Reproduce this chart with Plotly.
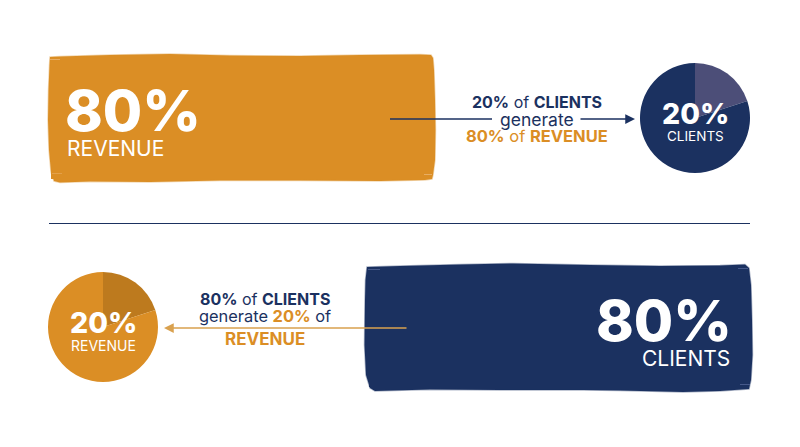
import plotly.graph_objects as go

NAVY = "#1b3160"
NAVY_LIGHT = "#4c4e78"
ORANGE = "#db8e25"
ORANGE_DARK = "#bd7a1e"

bar_values = [80]
pie_labels = ["share", "rest"]
pie_values = [20, 80]

W = 800
H = 447

# ragged brush outline behind each bar, page pixels
orange_brush = [(50, 57), (60, 56.5), (110, 55), (170, 54), (230, 55.5), (300, 56), (360, 55), (420, 54.5), (431, 55),
                (433, 58), (434, 70), (435, 100), (435.5, 130), (435, 160), (433, 175), (432, 179), (425, 180),
                (380, 181), (300, 180.5), (220, 180.5), (150, 182), (90, 181.5), (60, 182.5), (54, 181), (51, 172),
                (49, 150), (48, 120), (48.5, 90), (49.5, 65)]
navy_brush = [(367, 267), (400, 266), (460, 264.5), (513, 263.5), (590, 265), (660, 266), (720, 265.5), (745, 264.5),
              (749, 268), (751, 285), (752, 320), (752.5, 355), (751, 380), (749, 389), (720, 391), (683, 392),
              (620, 390.5), (583, 390), (500, 390), (430, 389.5), (375, 391), (370, 388), (366, 375), (364.5, 345),
              (365, 300), (365.5, 280)]


def px_x(x):
    return x / W


def px_y(y):
    return 1 - y / H


def label(fig, x, y, text, size, color="white", anchor="center", weight=None):
    fig.add_annotation(x=px_x(x), y=px_y(y), xref="paper", yref="paper", text=text, showarrow=False,
                       xanchor=anchor, yanchor="middle", align="center", borderpad=0,
                       font=dict(family="Inter", size=size, color=color, weight=weight))


def brush(fig, points, color, edge):
    path = "M " + " L ".join(f"{px_x(x)},{px_y(y)}" for x, y in points) + " Z"
    fig.add_shape(type="path", xref="paper", yref="paper", path=path, fillcolor=color, layer="below",
                  line=dict(color=edge, width=1.5))


def streak(fig, x0, x1, y, color):
    fig.add_shape(type="line", xref="paper", yref="paper", x0=px_x(x0), x1=px_x(x1), y0=px_y(y), y1=px_y(y),
                  line=dict(color=color, width=1))


fig = go.Figure()

# big bars, 80 of 100
fig.add_trace(go.Bar(x=bar_values, y=["a"], orientation="h", width=1, marker=dict(color=ORANGE, line_width=0),
                     xaxis="x", yaxis="y", hoverinfo="skip"))
fig.add_trace(go.Bar(x=bar_values, y=["a"], orientation="h", width=1, marker=dict(color=NAVY, line_width=0),
                     xaxis="x2", yaxis="y2", hoverinfo="skip"))

# small pies, 20 of 100
fig.add_trace(go.Pie(labels=pie_labels, values=pie_values, sort=False, direction="clockwise", rotation=0,
                     textinfo="none", hoverinfo="skip", marker=dict(colors=[NAVY_LIGHT, NAVY], line_width=0),
                     domain=dict(x=[px_x(640), px_x(750)], y=[px_y(173), px_y(63)])))
fig.add_trace(go.Pie(labels=pie_labels, values=pie_values, sort=False, direction="clockwise", rotation=0,
                     textinfo="none", hoverinfo="skip", marker=dict(colors=[ORANGE_DARK, ORANGE], line_width=0),
                     domain=dict(x=[px_x(48), px_x(158)], y=[px_y(382), px_y(272)])))

axis_off = dict(visible=False, fixedrange=True)
fig.update_layout(
    width=W, height=H, margin=dict(l=0, r=0, t=0, b=0), showlegend=False,
    paper_bgcolor="white", plot_bgcolor="rgba(0,0,0,0)", barmode="overlay",
    xaxis=dict(domain=[px_x(51), px_x(432)], range=[0, 80], **axis_off),
    yaxis=dict(domain=[px_y(179), px_y(58)], **axis_off),
    xaxis2=dict(domain=[px_x(369), px_x(748)], range=[80, 0], anchor="y2", **axis_off),
    yaxis2=dict(domain=[px_y(387), px_y(268)], anchor="x2", **axis_off),
)

brush(fig, orange_brush, ORANGE, "rgba(219,142,37,0.35)")
brush(fig, navy_brush, NAVY, "rgba(27,49,96,0.35)")

# lighter dry-brush marks in the corners
streak(fig, 50, 60, 59.5, "#e8ad62")
streak(fig, 424, 432, 174.5, "#e8ad62")
streak(fig, 52, 62, 173.5, "#e3a04a")
streak(fig, 368, 380, 269.5, "#46598a")
streak(fig, 738, 748, 268.5, "#46598a")
streak(fig, 740, 750, 384.5, "#46598a")

# divider
fig.add_shape(type="line", xref="paper", yref="paper", x0=px_x(49), x1=px_x(750), y0=px_y(223.5), y1=px_y(223.5),
              line=dict(color=NAVY, width=1))

# top arrow, broken around "generate"
fig.add_shape(type="line", xref="paper", yref="paper", x0=px_x(390), x1=px_x(492), y0=px_y(119), y1=px_y(119),
              line=dict(color=NAVY, width=1.5))
fig.add_annotation(x=px_x(635), y=px_y(119), ax=-56, ay=0, xref="paper", yref="paper", text="", showarrow=True,
                   arrowhead=2, arrowsize=1.3, arrowwidth=1.5, arrowcolor=NAVY)

# bottom arrow
fig.add_annotation(x=px_x(164), y=px_y(328), ax=244, ay=0, xref="paper", yref="paper", text="", showarrow=True,
                   arrowhead=2, arrowsize=1.3, arrowwidth=1.5, arrowcolor="#d9a14f")

label(fig, 64, 111, "80%", 57, anchor="left", weight=800)
label(fig, 66, 149, "REVENUE", 21, anchor="left")
label(fig, 733, 320, "80%", 57, anchor="right", weight=800)
label(fig, 731, 358, "CLIENTS", 21, anchor="right")

label(fig, 695, 113, "20%", 28.5, weight=800)
label(fig, 695, 136, "CLIENTS", 13.5)
label(fig, 103, 322, "20%", 28.5, weight=800)
label(fig, 103, 345, "REVENUE", 14)

label(fig, 537, 102, "<b>20%</b> of <b>CLIENTS</b>", 16, color=NAVY)
label(fig, 537, 119, "generate", 17.5, color=NAVY)
label(fig, 537, 136, "<b>80%</b> of <b>REVENUE</b>", 16.5, color=ORANGE)

label(fig, 265, 299, "<b>80%</b> of <b>CLIENTS</b>", 16, color=NAVY)
label(fig, 265, 316, f'generate <span style="color:{ORANGE}"><b>20%</b></span> of', 16.4, color=NAVY)
label(fig, 265, 339, "<b>REVENUE</b>", 17, color=ORANGE)

# page margin would push the chart 8px in
fig.write_html("out.html", config={"displayModeBar": False}, post_script="document.body.style.margin='0';")
